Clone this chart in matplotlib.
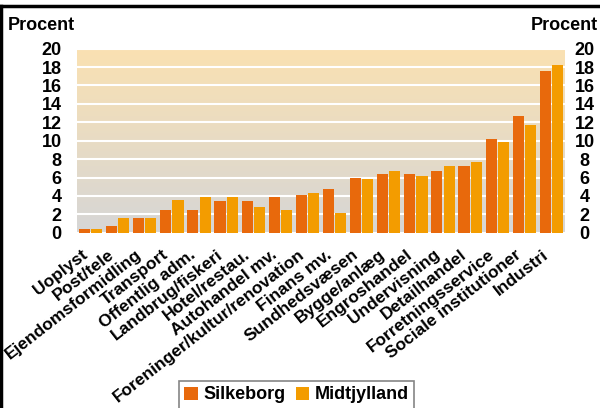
import numpy as np
import matplotlib
matplotlib.use("Agg")
import matplotlib.pyplot as plt
import matplotlib.transforms as mtransforms
from matplotlib.lines import Line2D

plt.rcParams['font.family'] = ['Liberation Sans', 'DejaVu Sans']
plt.rcParams['font.weight'] = 'bold'

categories = ["Uoplyst", "Post/tele", "Ejendomsformidling", "Transport",
              "Offentlig adm.", "Landbrug/fiskeri", "Hotel/restau.",
              "Autohandel mv.", "Foreninger/kultur/renovation", "Finans mv.",
              "Sundhedsvæsen", "Bygge/anlæg", "Engroshandel", "Undervisning",
              "Detailhandel", "Forretningsservice", "Sociale institutioner",
              "Industri"]
silkeborg = [0.4, 0.7, 1.6, 2.5, 2.5, 3.4, 3.4, 3.9, 4.1, 4.7,
             6.0, 6.4, 6.4, 6.7, 7.3, 10.2, 12.7, 17.6]
midtjylland = [0.4, 1.6, 1.6, 3.6, 3.9, 3.9, 2.8, 2.5, 4.3, 2.1,
               5.8, 6.7, 6.2, 7.3, 7.7, 9.9, 11.7, 18.2]
yticks = list(range(0, 21, 2))

C_SILK = "#E8690C"
C_MIDT = "#F39C00"

W, H = 600, 408
fig = plt.figure(figsize=(6, 4.08), dpi=100)
fig.patch.set_facecolor("white")
ax = fig.add_axes([77 / W, 1 - 232.7 / H, (565 - 77) / W, (232.7 - 48.7) / H])

# gradient background: grey at bottom, light orange at top
bottom_c = np.array([214, 214, 214]) / 255
top_c = np.array([250, 225, 178]) / 255
t = np.linspace(0, 1, 200)[:, None]
grad = (bottom_c[None, :] * (1 - t) + top_c[None, :] * t)[:, None, :]
ax.imshow(grad, extent=[0, 1, 0, 1], transform=ax.transAxes, aspect="auto",
          origin="lower", zorder=0)

for v in yticks:
    ax.axhline(v, color="white", lw=1.5, zorder=1)

x = np.arange(len(categories))
bw = 0.41
ax.bar(x - 0.225, silkeborg, bw, color=C_SILK, label="Silkeborg", zorder=2)
ax.bar(x + 0.225, midtjylland, bw, color=C_MIDT, label="Midtjylland", zorder=2)

ax.set_xlim(-0.5, len(categories) - 0.5)
ax.set_ylim(0, 20)
for s in ax.spines.values():
    s.set_visible(False)

ax.set_yticks(yticks)
ax.set_yticklabels([str(v) for v in yticks], fontsize=13, fontweight="bold")
ax.tick_params(axis="y", length=0, pad=11)

ax.set_xticks(x)
ax.set_xticklabels(categories, rotation=38, ha="right", va="center",
                   rotation_mode="anchor", fontsize=12.5, fontweight="bold")
ax.tick_params(axis="x", length=0, pad=0)
offset = mtransforms.ScaledTranslation(-5 / 100, -20 / 100, fig.dpi_scale_trans)
for lab in ax.get_xticklabels():
    lab.set_transform(lab.get_transform() + offset)

ax2 = ax.twinx()
ax2.set_ylim(0, 20)
ax2.set_yticks(yticks)
ax2.set_yticklabels([str(v) for v in yticks], fontsize=13, fontweight="bold",
                    ha="center")
ax2.tick_params(axis="y", length=0, pad=14)
for s in ax2.spines.values():
    s.set_visible(False)

fig.text(8 / W, 1 - 26 / H, "Procent", fontsize=13, fontweight="bold",
         ha="left", va="center")
fig.text(598 / W, 1 - 26 / H, "Procent", fontsize=13, fontweight="bold",
         ha="right", va="center")

leg = ax.legend(loc="upper center", bbox_to_anchor=(296.5 / W, 1 - 381 / H),
                bbox_transform=fig.transFigure, ncol=2, fontsize=13,
                frameon=True, fancybox=False, edgecolor="#666666",
                handlelength=0.75, handleheight=0.75, handletextpad=0.3,
                columnspacing=0.6, borderpad=0.3, borderaxespad=0)
leg.get_frame().set_linewidth(1.2)

# outer frame lines (top and left only)
fig.add_artist(Line2D([0, 1], [1 - 6 / H, 1 - 6 / H], color="black", lw=2.5,
                      transform=fig.transFigure))
fig.add_artist(Line2D([1 / W, 1 / W], [0, 1 - 6 / H], color="black", lw=2.5,
                      transform=fig.transFigure))

fig.savefig("out.png", dpi=100)
